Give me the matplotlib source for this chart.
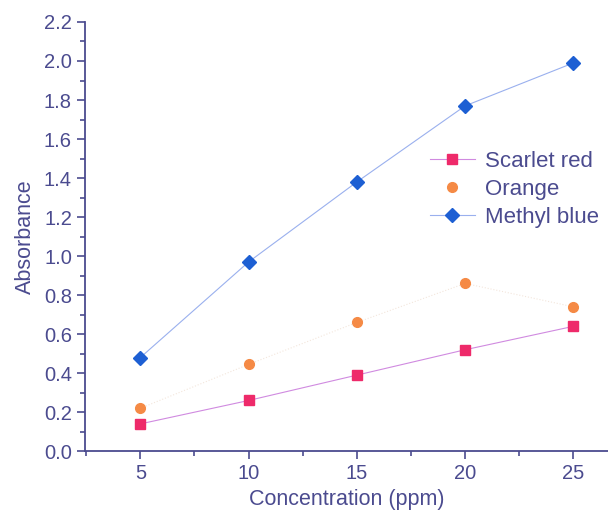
import matplotlib.pyplot as plt
from matplotlib.lines import Line2D
from matplotlib.ticker import MultipleLocator

plt.rcParams["font.family"] = ["Liberation Sans", "DejaVu Sans"]

conc = [5, 10, 15, 20, 25]
scarlet_red = [0.14, 0.26, 0.39, 0.52, 0.64]
orange = [0.22, 0.445, 0.66, 0.86, 0.74]
methyl_blue = [0.48, 0.97, 1.38, 1.77, 1.99]

axis_col = "#4b4b8f"

fig = plt.figure(figsize=(6.08, 5.11), dpi=100)
ax = fig.add_axes([0.14, 0.117, 0.86, 0.84])

ax.plot(conc, scarlet_red, color="#d08ae0", lw=0.8, marker="s", ms=7,
        mfc="#ee2a6a", mec="#ee2a6a")
ax.plot(conc, orange, color="#f3e6dc", lw=0.8, ls=":", marker="o", ms=7,
        mfc="#f58a45", mec="#f58a45")
ax.plot(conc, methyl_blue, color="#9ab0ee", lw=0.8, marker="D", ms=7,
        mfc="#1d5fd3", mec="#1d5fd3")

handles = [
    Line2D([], [], color="#d08ae0", lw=0.8, marker="s", ms=7, mfc="#ee2a6a", mec="#ee2a6a"),
    Line2D([], [], color="none", marker="o", ms=7, mfc="#f58a45", mec="#f58a45"),
    Line2D([], [], color="#9ab0ee", lw=0.8, marker="D", ms=7, mfc="#1d5fd3", mec="#1d5fd3"),
]
leg = ax.legend(handles, ["Scarlet red", "Orange", "Methyl blue"], loc="upper left",
                bbox_to_anchor=(0.66, 0.70), frameon=False, fontsize=16,
                handlelength=2.0, labelspacing=0.32, handletextpad=0.45, borderpad=0,
                borderaxespad=0)
for t in leg.get_texts():
    t.set_color(axis_col)

ax.set_xlim(2.45, 26.6)
ax.set_ylim(0, 2.2)
ax.set_xticks(conc)
ax.set_yticks([i * 0.2 for i in range(12)])
ax.set_yticklabels([f"{i * 0.2:.1f}" for i in range(12)])
ax.xaxis.set_minor_locator(MultipleLocator(2.5))
ax.yaxis.set_minor_locator(MultipleLocator(0.1))

for s in ["top", "right"]:
    ax.spines[s].set_visible(False)
for s in ["left", "bottom"]:
    ax.spines[s].set_color(axis_col)
    ax.spines[s].set_linewidth(1.3)
ax.tick_params(which="both", direction="out", colors=axis_col, labelsize=14.5, width=1.2)
ax.tick_params(which="major", length=6)
ax.tick_params(which="minor", length=3.5)
ax.set_xlabel("Concentration (ppm)", fontsize=15.5, color=axis_col, labelpad=4)
ax.set_ylabel("Absorbance", fontsize=15.5, color=axis_col, labelpad=6)

fig.savefig("out.png", dpi=100)
